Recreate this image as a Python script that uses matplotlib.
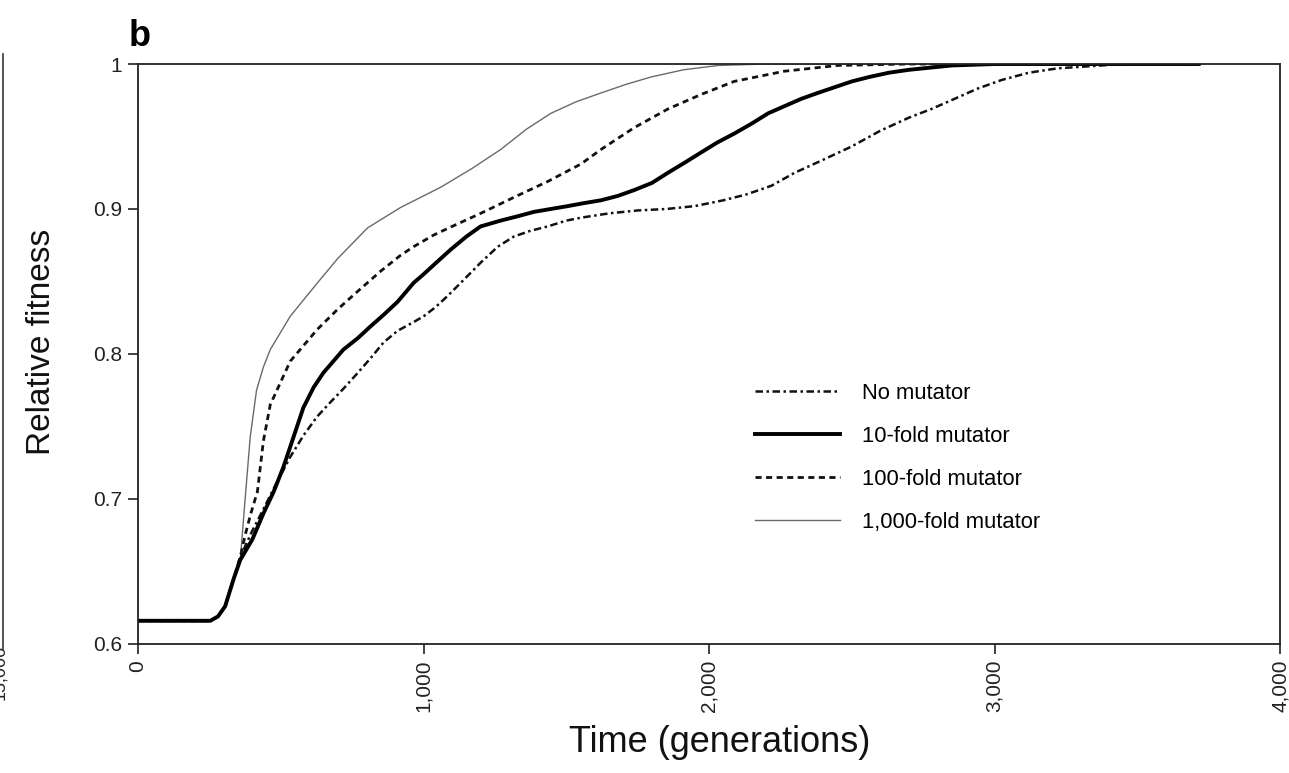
import matplotlib
matplotlib.use("Agg")
import matplotlib.pyplot as plt
from matplotlib.lines import Line2D

plt.rcParams['font.family'] = ['Liberation Sans', 'DejaVu Sans']

# curves (generations, relative fitness)
no_mut_x = [0, 253, 280, 305, 335, 358, 400, 439, 485, 533, 580, 628, 675, 719, 765, 814,
            860, 909, 965, 1000, 1040, 1084, 1140, 1200, 1260, 1316, 1375, 1435, 1500, 1551,
            1650, 1750, 1850, 1950, 2050, 2130, 2218, 2300, 2400, 2498, 2600, 2700, 2779,
            2860, 2940, 3025, 3120, 3220, 3375, 3450, 3715]
no_mut_y = [0.616, 0.616, 0.619, 0.626, 0.645, 0.660, 0.678, 0.693, 0.711, 0.729, 0.744,
            0.757, 0.767, 0.776, 0.786, 0.797, 0.808, 0.816, 0.822, 0.826, 0.832, 0.840,
            0.851, 0.863, 0.874, 0.881, 0.885, 0.888, 0.892, 0.894, 0.897, 0.899, 0.900,
            0.902, 0.906, 0.910, 0.916, 0.925, 0.934, 0.943, 0.954, 0.963, 0.969, 0.976,
            0.983, 0.989, 0.994, 0.997, 0.999, 1.0, 1.0]

fold10_x = [0, 253, 280, 305, 335, 358, 400, 439, 475, 509, 545, 579, 615, 649, 719, 770,
            814, 860, 909, 965, 1000, 1050, 1095, 1150, 1200, 1270, 1330, 1386, 1445, 1505,
            1560, 1621, 1680, 1737, 1800, 1856, 1915, 1972, 2030, 2088, 2150, 2207, 2265,
            2323, 2380, 2440, 2500, 2560, 2630, 2700, 2850, 3000, 3715]
fold10_y = [0.616, 0.616, 0.619, 0.626, 0.645, 0.658, 0.672, 0.690, 0.705, 0.722, 0.743,
            0.763, 0.777, 0.787, 0.803, 0.811, 0.819, 0.827, 0.836, 0.849, 0.855, 0.864,
            0.872, 0.881, 0.888, 0.892, 0.895, 0.898, 0.900, 0.902, 0.904, 0.906, 0.909,
            0.913, 0.918, 0.925, 0.932, 0.939, 0.946, 0.952, 0.959, 0.966, 0.971, 0.976,
            0.980, 0.984, 0.988, 0.991, 0.994, 0.996, 0.999, 1.0, 1.0]

fold100_x = [0, 253, 280, 305, 335, 358, 375, 395, 418, 439, 463, 533, 628, 700, 768, 849,
             919, 965, 1035, 1100, 1200, 1316, 1435, 1551, 1621, 1737, 1856, 1972, 2088,
             2263, 2450, 2700, 3715]
fold100_y = [0.616, 0.616, 0.619, 0.626, 0.645, 0.660, 0.675, 0.690, 0.705, 0.740, 0.765,
             0.795, 0.817, 0.831, 0.843, 0.857, 0.868, 0.874, 0.882, 0.888, 0.897, 0.908,
             0.919, 0.931, 0.941, 0.956, 0.969, 0.979, 0.988, 0.995, 0.999, 1.0, 1.0]

fold1000_x = [0, 253, 280, 305, 335, 358, 375, 393, 415, 439, 463, 533, 628, 700, 804, 919,
              1060, 1170, 1270, 1360, 1446, 1535, 1621, 1710, 1796, 1910, 2032, 2200, 3715]
fold1000_y = [0.616, 0.616, 0.619, 0.626, 0.645, 0.658, 0.700, 0.743, 0.775, 0.791, 0.803,
              0.826, 0.849, 0.866, 0.887, 0.901, 0.915, 0.928, 0.941, 0.955, 0.966, 0.974,
              0.980, 0.986, 0.991, 0.996, 0.999, 1.0, 1.0]

x_ticks = [0, 1000, 2000, 3000, 4000]
x_labels = ["0", "1,000", "2,000", "3,000", "4,000"]
y_ticks = [0.6, 0.7, 0.8, 0.9, 1.0]
y_labels = ["0.6", "0.7", "0.8", "0.9", "1"]
labels = ["No mutator", "10-fold mutator", "100-fold mutator", "1,000-fold mutator"]

fig = plt.figure(figsize=(12.89, 7.73), dpi=100)
ax = fig.add_axes([0.1071, 0.1669, 0.886, 0.7503])

ax.plot(fold1000_x, fold1000_y, '-', color="#6a6a6a", lw=1.0)
ax.plot(fold100_x, fold100_y, color="#111111", lw=2.0, dashes=(2.2, 1.6))
ax.plot(no_mut_x, no_mut_y, color="#111111", lw=1.8, dashes=(3.0, 1.4, 1.0, 1.4))
ax.plot(fold10_x, fold10_y, '-', color="#000000", lw=2.8)

ax.set_xlim(0, 4000)
ax.set_ylim(0.6, 1.0)
ax.set_xticks(x_ticks)
ax.set_xticklabels(x_labels, rotation=90)
ax.set_yticks(y_ticks)
ax.set_yticklabels(y_labels)
ax.tick_params(direction='out', length=7.5, width=1.2, labelsize=15, colors="#222222", pad=4)
for s in ax.spines.values():
    s.set_linewidth(1.3)
    s.set_color("#222222")

ax.set_xlabel("Time (generations)", fontsize=26, labelpad=9, color="#111111")
ax.set_ylabel("Relative fitness", fontsize=24, labelpad=26, color="#111111")
ax.xaxis.label.set_x(0.509)
ax.yaxis.label.set_y(0.521)

handles = [Line2D([], [], color="#111111", lw=1.8, dashes=(3.0, 1.4, 1.0, 1.4)),
           Line2D([], [], color="#000000", lw=2.8),
           Line2D([], [], color="#111111", lw=2.0, dashes=(2.2, 1.6)),
           Line2D([], [], color="#6a6a6a", lw=1.0)]
ax.legend(handles, labels, loc='upper left', bbox_to_anchor=(0.5228, 0.4845), frameon=False,
          fontsize=15.8, handlelength=3.9, handletextpad=1.0, labelspacing=1.0)

fig.text(0.1, 0.94, "b", fontsize=26, fontweight='bold')

# bits of the neighbouring panel cut off at the left edge
fig.add_artist(Line2D([0.002, 0.002], [0.16, 0.93], color="#333333", lw=1.2))
fig.text(0.0, 0.13, "15,000", rotation=90, fontsize=13, ha='center', va='center', color="#222222")

plt.savefig("out.png", dpi=100)
plt.close()
